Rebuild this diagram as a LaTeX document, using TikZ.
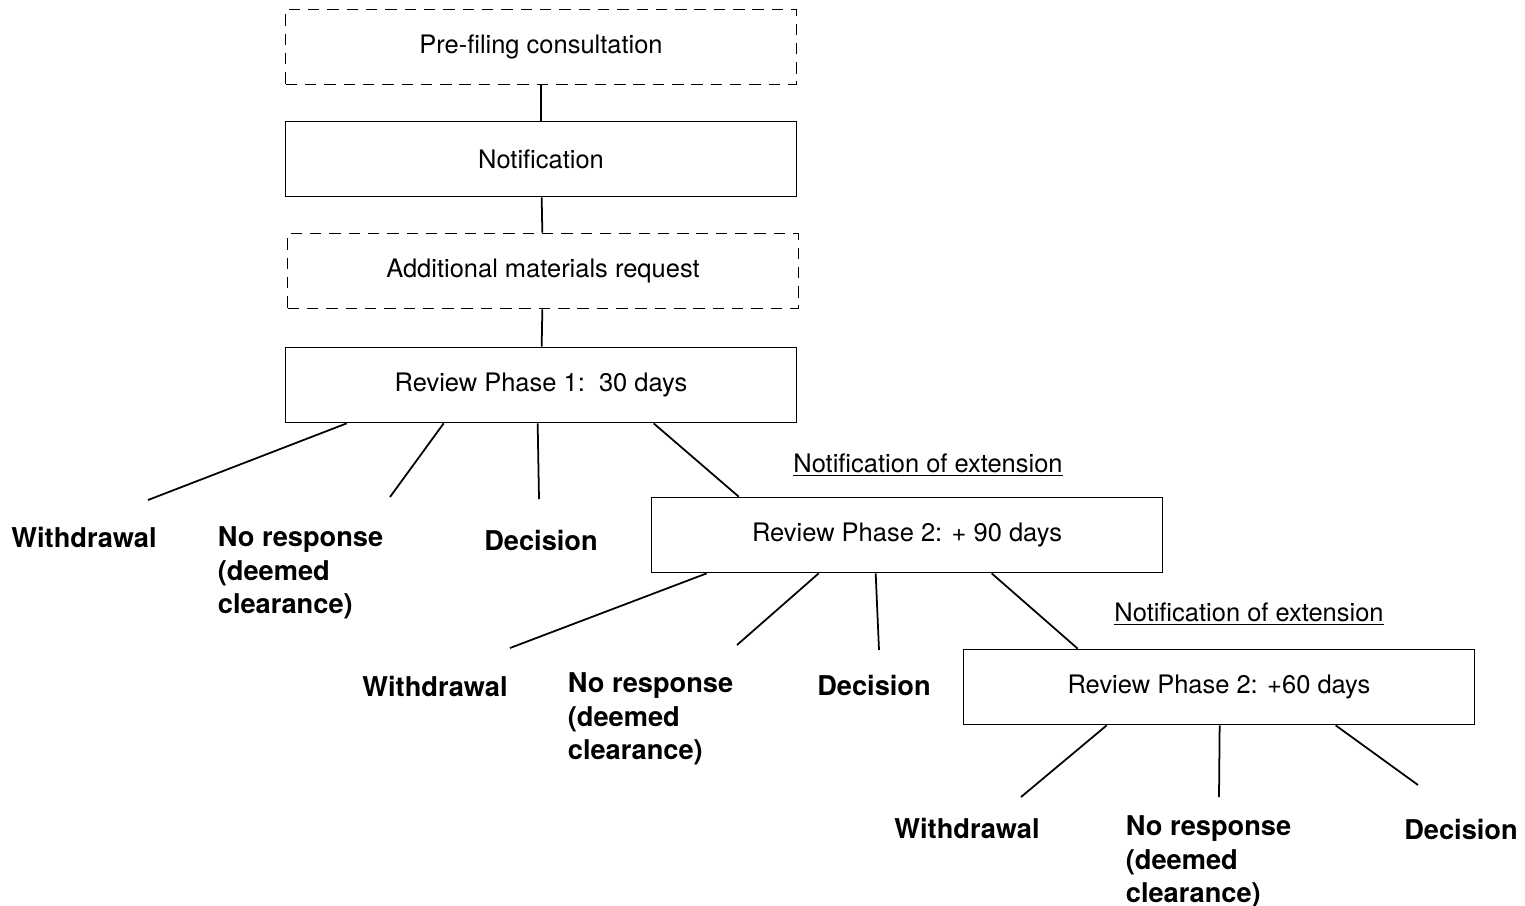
\documentclass[tikz,border=0pt]{standalone}
\usepackage{fontspec}
\setmainfont{TeX Gyre Heros}
\usetikzlibrary{calc,positioning}

\begin{document}
\begin{tikzpicture}[x=0.02cm,y=-0.02cm,line width=1pt,
      stage/.style={draw,minimum width=10.22cm,minimum height=1.5cm,inner sep=0pt,font=\fontsize{14.5}{17}\selectfont},
      opt/.style={stage,dash pattern=on 6.5pt off 4.5pt},
      outc/.style={inner sep=0pt,align=left,font=\bfseries\fontsize{15.5}{19}\selectfont},
      ext/.style={inner sep=0pt,font=\fontsize{14.5}{17}\selectfont}]
    \useasboundingbox (0,0) rectangle (1525,906);
    % main chain
    \node[opt]   (pre) at (541,47)  {Pre-filing consultation};
    \node[stage] (note) at (541,159) {Notification};
    \node[opt]   (add) at (543,271) {Additional materials request};
    \node[stage] (p1) at (541,385) {Review Phase 1:\ \ 30 days};
    \node[stage] (p2) at (907,535) {Review Phase 2: + 90 days};
    \node[stage] (p3) at (1219,687) {Review Phase 2: +60 days};
    \draw (pre) -- (note);
    \draw (note) -- (add);
    \draw (add) -- (p1);
    % extension notes
    \node[ext] (ext1) at (928,465) {\underline{Notification of extension}};
    \node[ext] (ext2) at (1249,614) {\underline{Notification of extension}};
    % outcomes of phase 1
    \node[outc] (w1) at (84,537) {Withdrawal};
    \node[outc,anchor=north west] (n1) at (217,526) {No response\\(deemed\\clearance)};
    \node[outc] (d1) at (541,540) {Decision};
    \coordinate (w1e) at (148,500);
    \coordinate (n1e) at (390,497);
    \coordinate (d1e) at (539,499);
    \draw ($(p1.south west)+(62,0)$) -- (w1e);
    \draw ($(p1.south west)+(159,0)$) -- (n1e);
    \draw ($(p1.south west)+(253,0)$) -- (d1e);
    \draw ($(p1.south west)+(369,0)$) -- ($(p2.north west)+(88,0)$);
    % outcomes of phase 2
    \node[outc] (w2) at (435,686) {Withdrawal};
    \node[outc,anchor=north west] (n2) at (567,672) {No response\\(deemed\\clearance)};
    \node[outc] (d2) at (874,685) {Decision};
    \coordinate (w2e) at (510,648);
    \coordinate (n2e) at (737,645);
    \coordinate (d2e) at (879,650);
    \draw ($(p2.south west)+(56,0)$) -- (w2e);
    \draw ($(p2.south west)+(168,0)$) -- (n2e);
    \draw ($(p2.south west)+(225,0)$) -- (d2e);
    \draw ($(p2.south west)+(341,0)$) -- ($(p3.north west)+(115,0)$);
    % outcomes of phase 3
    \node[outc] (w3) at (967,828) {Withdrawal};
    \node[outc,anchor=north west] (n3) at (1125,815) {No response\\(deemed\\clearance)};
    \node[outc] (d3) at (1461,829) {Decision};
    \coordinate (w3e) at (1021,797);
    \coordinate (n3e) at (1219,797);
    \coordinate (d3e) at (1418,785);
    \draw ($(p3.south west)+(144,0)$) -- (w3e);
    \draw ($(p3.south west)+(257,0)$) -- (n3e);
    \draw ($(p3.south west)+(373,0)$) -- (d3e);
  \end{tikzpicture}
\end{document}
